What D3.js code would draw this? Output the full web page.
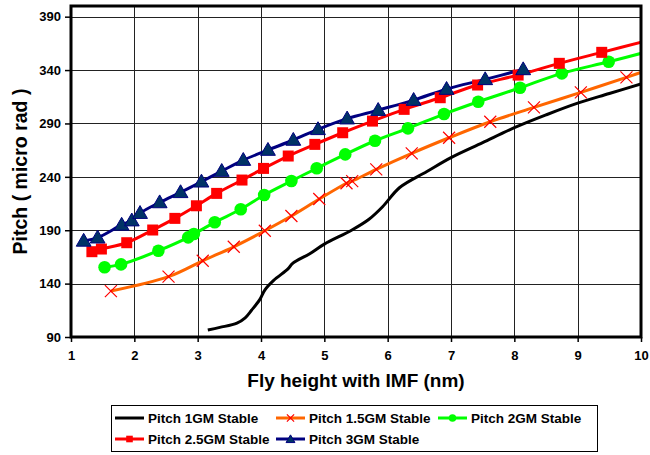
<!DOCTYPE html>
<html>
<head>
<meta charset="utf-8">
<script src="https://cdn.jsdelivr.net/npm/d3@7"></script>
<style>
  body { margin: 0; background: #fff; }
  svg { font-family: Arial, "Liberation Sans", sans-serif; font-weight: bold; }
</style>
</head>
<body>
<div id="chart"></div>
<script>
// fly height (nm) and pitch (micro rad) per series
var pitch1X = [3.16, 3.35, 3.62, 3.75, 3.85, 3.98, 4.06, 4.2, 4.43, 4.5, 4.77, 5.0, 5.43, 5.7, 5.92, 6.19, 6.62, 7.0, 7.5, 8.0, 8.5, 9.0, 9.5, 10.0];
var pitch1Y = [96.5, 99, 103, 108, 115, 125, 134, 143, 154, 159, 168, 177, 190, 200, 212, 230, 245, 258, 272, 286, 298, 309, 318, 327];

var pitch15X = [1.63, 2.54, 3.08, 3.57, 4.06, 4.48, 4.92, 5.35, 5.44, 5.82, 6.38, 6.97, 7.62, 8.31, 9.05, 9.77, 10.2];
var pitch15Y = [133, 146.5, 161.4, 174.5, 189.5, 203.3, 219.2, 234, 236, 247, 262, 276.6, 291.6, 305, 319.1, 333.2, 342];

var pitch2X = [1.53, 1.79, 2.38, 2.85, 2.94, 3.27, 3.68, 4.05, 4.48, 4.88, 5.33, 5.8, 6.32, 6.89, 7.43, 8.09, 8.75, 9.49, 10.15];
var pitch2Y = [155.3, 158, 170.8, 183.3, 186.4, 197.4, 209.6, 223, 236.1, 248, 261, 273.8, 285.4, 298.8, 310.3, 323.4, 336.9, 347.8, 358];

var pitch25X = [1.33, 1.48, 1.88, 2.29, 2.64, 2.98, 3.3, 3.7, 4.04, 4.43, 4.85, 5.29, 5.76, 6.26, 6.83, 7.42, 8.06, 8.71, 9.38, 10.1];
var pitch25Y = [169.9, 172.4, 178.3, 190.2, 201.1, 212.9, 224.5, 237, 247.9, 259.5, 270.4, 281.3, 292.2, 303.2, 314.1, 326, 335.3, 346.3, 356.6, 367.5];

var pitch3X = [1.2, 1.42, 1.8, 1.96, 2.09, 2.4, 2.73, 3.06, 3.38, 3.72, 4.11, 4.51, 4.9, 5.36, 5.85, 6.41, 6.93, 7.54, 8.14];
var pitch3Y = [180, 183, 195, 199, 206, 216, 225.5, 235.4, 245.4, 255.7, 265.1, 274.5, 284.5, 294.5, 302.5, 311.9, 322.2, 331.3, 340.6];

var seriesNames = ["Pitch 1GM Stable", "Pitch 1.5GM Stable", "Pitch 2GM Stable", "Pitch 2.5GM Stable", "Pitch 3GM Stable"];
var xTicks = [1, 2, 3, 4, 5, 6, 7, 8, 9, 10];
var yTicks = [90, 140, 190, 240, 290, 340, 390];

var width = 650, height = 455;
var margin = { left: 71, top: 6, right: 9, bottom: 118 };

var svg = d3.select("#chart")
    .append("svg")
    .attr("width", width)
    .attr("height", height);

var x = d3.scaleLinear().domain([1, 10]).range([margin.left, width - margin.right]);
var y = d3.scaleLinear().domain([90, 400]).range([height - margin.bottom, margin.top]);

function zip(xs, ys) {
    return xs.map(function (v, i) { return { x: v, y: ys[i] }; });
}

var series = [
    { name: seriesNames[0], data: zip(pitch1X, pitch1Y), color: "#000000", marker: null },
    { name: seriesNames[1], data: zip(pitch15X, pitch15Y), color: "#ff6600", marker: "cross" },
    { name: seriesNames[2], data: zip(pitch2X, pitch2Y), color: "#00ff00", marker: "circle" },
    { name: seriesNames[3], data: zip(pitch25X, pitch25Y), color: "#ff0000", marker: "square" },
    { name: seriesNames[4], data: zip(pitch3X, pitch3Y), color: "#000080", marker: "triangle" }
];

svg.append("clipPath")
    .attr("id", "plotclip")
    .append("rect")
    .attr("x", x(1))
    .attr("y", y(400))
    .attr("width", x(10) - x(1))
    .attr("height", y(90) - y(400));

// grid
svg.append("g")
    .selectAll("line")
    .data(xTicks)
    .enter().append("line")
    .attr("x1", d => Math.round(x(d)) + 0.5)
    .attr("x2", d => Math.round(x(d)) + 0.5)
    .attr("y1", y(400))
    .attr("y2", y(90))
    .attr("stroke", "#222")
    .attr("stroke-width", 1);

svg.append("g")
    .selectAll("line")
    .data(yTicks)
    .enter().append("line")
    .attr("x1", x(1))
    .attr("x2", x(10))
    .attr("y1", d => Math.round(y(d)) + 0.5)
    .attr("y2", d => Math.round(y(d)) + 0.5)
    .attr("stroke", "#222")
    .attr("stroke-width", 1);

// axes
var xAxis = svg.append("g")
    .attr("transform", `translate(0,${y(90)})`)
    .call(d3.axisBottom(x).tickValues(xTicks).tickSize(5).tickPadding(9).tickFormat(d3.format("d")));
var yAxis = svg.append("g")
    .attr("transform", `translate(${x(1)},0)`)
    .call(d3.axisLeft(y).tickValues(yTicks).tickSize(6).tickPadding(4).tickFormat(d3.format("d")));

[xAxis, yAxis].forEach(function (a) {
    a.select(".domain").remove();
    a.selectAll("line").attr("stroke", "#000").attr("stroke-width", 1.5);
    a.selectAll("text")
        .attr("fill", "#000")
        .style("font-size", "13px")
        .style("font-family", "Arial, 'Liberation Sans', sans-serif")
        .style("font-weight", "bold");
});

// lines
var line = d3.line()
    .x(d => x(d.x))
    .y(d => y(d.y))
    .curve(d3.curveCatmullRom);

var plot = svg.append("g").attr("clip-path", "url(#plotclip)");

series.forEach(function (s) {
    plot.append("path")
        .datum(s.data)
        .attr("fill", "none")
        .attr("stroke", s.color)
        .attr("stroke-width", 3)
        .attr("stroke-linejoin", "round")
        .attr("d", line);
});

function drawMarker(g, type, cx, cy, scale) {
    if (type === "cross") {
        var r = 6 * scale;
        g.append("path")
            .attr("d", `M${cx - r},${cy - r}L${cx + r},${cy + r}M${cx - r},${cy + r}L${cx + r},${cy - r}`)
            .attr("stroke", "#ff0000")
            .attr("stroke-width", 1.2)
            .attr("fill", "none");
    } else if (type === "circle") {
        g.append("circle")
            .attr("cx", cx).attr("cy", cy).attr("r", 6.3 * scale)
            .attr("fill", "#00ff00");
    } else if (type === "square") {
        var h = 5.5 * scale;
        g.append("rect")
            .attr("x", cx - h).attr("y", cy - h)
            .attr("width", 2 * h).attr("height", 2 * h)
            .attr("fill", "#ff0000");
    } else if (type === "triangle") {
        g.append("path")
            .attr("d", d3.symbol().type(d3.symbolTriangle).size(95 * scale * scale)())
            .attr("transform", `translate(${cx},${cy + 1})`)
            .attr("fill", "#003366")
            .attr("stroke", "#000080")
            .attr("stroke-width", 1);
    }
}

var markers = svg.append("g");
series.forEach(function (s) {
    if (!s.marker) return;
    s.data.filter(d => d.x <= 10).forEach(function (d) {
        drawMarker(markers, s.marker, x(d.x), y(d.y), 1);
    });
});

// plot frame
svg.append("rect")
    .attr("x", x(1))
    .attr("y", y(400))
    .attr("width", x(10) - x(1))
    .attr("height", y(90) - y(400))
    .attr("fill", "none")
    .attr("stroke", "#000")
    .attr("stroke-width", 3);

// axis titles
svg.append("text")
    .attr("x", (x(1) + x(10)) / 2)
    .attr("y", 387)
    .attr("text-anchor", "middle")
    .style("font-size", "19px")
    .text("Fly height with IMF (nm)");

svg.append("text")
    .attr("transform", `translate(27,${(y(90) + y(400)) / 2}) rotate(-90)`)
    .attr("text-anchor", "middle")
    .style("font-size", "19.5px")
    .text("Pitch ( micro rad )");

// legend
var legend = svg.append("g");
legend.append("rect")
    .attr("x", 111.5)
    .attr("y", 405.5)
    .attr("width", 486)
    .attr("height", 46)
    .attr("fill", "#fff")
    .attr("stroke", "#000")
    .attr("stroke-width", 1);

var legendPos = [[115, 418], [276, 418], [438, 418], [115, 439], [276, 439]];

series.forEach(function (s, i) {
    var lx = legendPos[i][0], ly = legendPos[i][1];
    legend.append("line")
        .attr("x1", lx).attr("x2", lx + 29)
        .attr("y1", ly).attr("y2", ly)
        .attr("stroke", s.color)
        .attr("stroke-width", 3);
    if (s.marker) drawMarker(legend, s.marker, lx + 14.5, ly, 0.6);
    legend.append("text")
        .attr("x", lx + 33)
        .attr("y", ly + 5)
        .style("font-size", "13.5px")
        .text(s.name);
});
</script>
</body>
</html>
